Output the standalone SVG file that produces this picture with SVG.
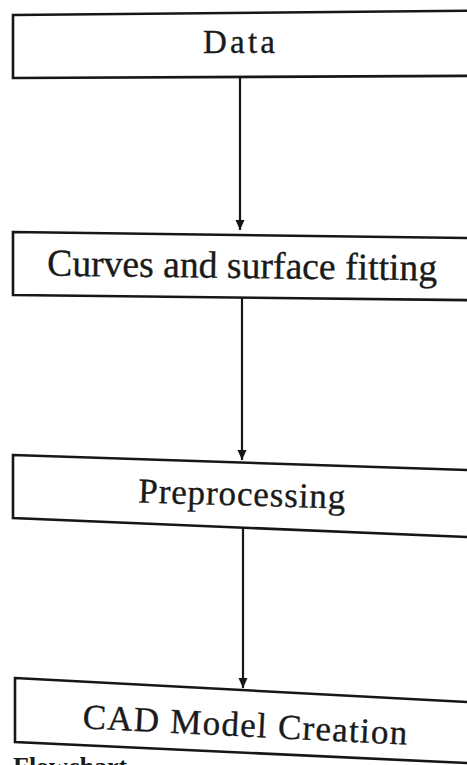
<svg xmlns="http://www.w3.org/2000/svg" width="467" height="765" viewBox="0 0 467 765">
  <defs>
    <style>
      .box { fill: #ffffff; stroke: #161616; stroke-width: 2.6; stroke-linejoin: miter; }
      .lbl { font-family: "Liberation Serif", "DejaVu Serif", serif; fill: #1a1a1a; stroke: #1a1a1a; stroke-width: 0.35; text-anchor: middle; }
      .conn { stroke: #161616; stroke-width: 2.2; fill: none; }
      .cap { font-family: "Liberation Serif", "DejaVu Serif", serif; font-weight: bold; fill: #1a1a1a; }
    </style>
    <marker id="arrow" markerUnits="userSpaceOnUse" markerWidth="10" markerHeight="11" refX="10" refY="4.5" orient="auto">
      <path d="M0,0 L10,4.5 L0,9 z" fill="#161616"/>
    </marker>
  </defs>
  <rect x="0" y="0" width="467" height="765" fill="#ffffff"/>

  <g id="connectors">
    <line class="conn" x1="240" y1="78" x2="240" y2="230" marker-end="url(#arrow)"/>
    <line class="conn" x1="242" y1="298" x2="242" y2="460" marker-end="url(#arrow)"/>
    <line class="conn" x1="243" y1="527" x2="243" y2="688" marker-end="url(#arrow)"/>
  </g>

  <g id="node-data">
    <polygon class="box" points="13,15 480,10.7 480,75.8 13,78"/>
    <text class="lbl" x="239" y="53" font-size="33" textLength="72" lengthAdjust="spacing">Data</text>
  </g>

  <g id="node-curves">
    <polygon class="box" points="13,232 480,238.2 480,300.3 13,295"/>
    <text class="lbl" x="242" y="278" font-size="38" textLength="390" lengthAdjust="spacingAndGlyphs" transform="rotate(0.7 242 278)">Curves and surface fitting</text>
  </g>

  <g id="node-preprocessing">
    <polygon class="box" points="13,455 480,470.4 480,537.6 13,518"/>
    <text class="lbl" x="241.5" y="505.5" font-size="35" textLength="207" lengthAdjust="spacing" transform="rotate(1.7 241.5 505.5)">Preprocessing</text>
  </g>

  <g id="node-cad">
    <polygon class="box" points="15,678 480,702.7 480,763.6 15,742"/>
    <text class="lbl" x="244.5" y="736.5" font-size="35" textLength="325" lengthAdjust="spacing" transform="rotate(2.9 244.5 736.5)">CAD Model Creation</text>
  </g>

  <text class="cap" x="13" y="775" font-size="26">Flowchart</text>
</svg>
